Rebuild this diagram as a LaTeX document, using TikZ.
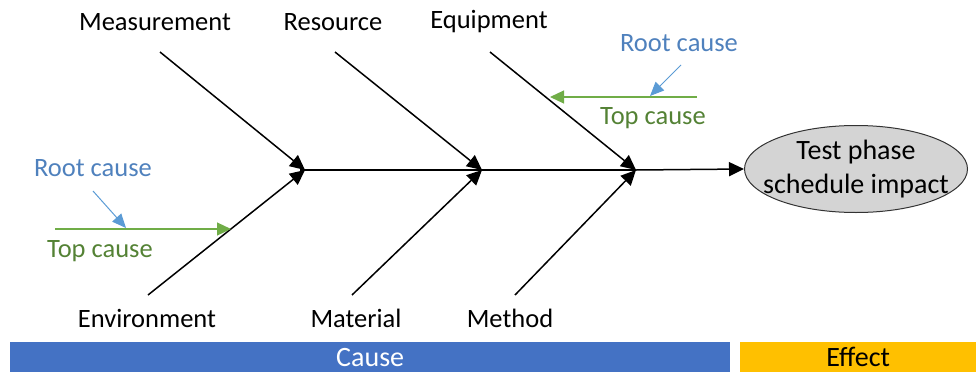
\documentclass[tikz,border=0pt]{standalone}
\usepackage{fontspec}
\setmainfont{Carlito}
\usetikzlibrary{arrows.meta,shapes.geometric}
\definecolor{rootblue}{HTML}{5B9BD5}
\definecolor{rootbluetext}{HTML}{4F81BD}
\definecolor{topgreen}{HTML}{70AD47}
\definecolor{topgreentext}{HTML}{548235}
\definecolor{causebar}{HTML}{4472C4}
\definecolor{effectbar}{HTML}{FFC000}
\tikzset{
  lbl/.style={font=\fontsize{26.5}{30}\selectfont, inner sep=0pt},
  bone/.style={draw=black, line width=1.5pt, -{Triangle[length=15pt,width=14pt]}},
  spine/.style={draw=black, line width=1.2pt},
  toparrow/.style={draw=topgreen, line width=1.2pt, -{Triangle[length=14pt,width=13pt]}},
  rootarrow/.style={draw=rootblue, line width=1pt, -{Triangle[length=14pt,width=12pt]}},
}
\begin{document}
\begin{tikzpicture}[x=1pt,y=-1pt]
\useasboundingbox (0,0) rectangle (976,372);
% effect
\node[ellipse, draw=black!80, line width=1pt, fill=black!17, minimum width=223pt, minimum height=87pt, inner xsep=-34pt, inner ysep=-4pt, align=center, font=\fontsize{28}{34}\selectfont] (eff) at (856,169) {Test phase\\schedule impact};
% junctions
\coordinate (j1) at (305,170);
\coordinate (j2) at (482,170);
\coordinate (j3) at (636,170);
\coordinate (s0) at (300,170);
\draw[spine] (s0) -- (j1) -- (j2) -- (j3);
\draw[bone] (j3) -- (eff.west);
% bone starts
\coordinate (b1) at (160,52);
\coordinate (b2) at (335,52);
\coordinate (b3) at (490,52);
\coordinate (b4) at (148,295);
\coordinate (b5) at (352,295);
\coordinate (b6) at (515,295);
\draw[bone] (b1) -- (j1);
\draw[bone] (b2) -- (j2);
\draw[bone] (b3) -- (j3);
\draw[bone] (b4) -- (j1);
\draw[bone] (b5) -- (j2);
\draw[bone] (b6) -- (j3);
\node[lbl] (l1) at (155,22) {Measurement};
\node[lbl] (l2) at (333,22) {Resource};
\node[lbl] (l3) at (489,22) {Equipment};
\node[lbl] (l4) at (147,318) {Environment};
\node[lbl] (l5) at (356,318) {Material};
\node[lbl] (l6) at (510,318) {Method};
% left cause arrows
\coordinate (g1s) at (55,229);
\coordinate (g1e) at (231,229);
\draw[toparrow] (g1s) -- (g1e);
\coordinate (r1s) at (93,191);
\coordinate (r1e) at (126,228);
\draw[rootarrow] (r1s) -- (r1e);
\node[lbl, text=rootbluetext] (rc1) at (93,168) {Root cause};
\node[lbl, text=topgreentext] (tc1) at (100,251) {Top cause};
% right cause arrows
\coordinate (g2s) at (697,97);
\coordinate (g2e) at (550,97);
\draw[toparrow] (g2s) -- (g2e);
\coordinate (r2s) at (681,65);
\coordinate (r2e) at (650,96);
\draw[rootarrow] (r2s) -- (r2e);
\node[lbl, text=rootbluetext] (rc2) at (679,43) {Root cause};
\node[lbl, text=topgreentext] (tc2) at (653,118) {Top cause};
% bars
\node[fill=causebar, minimum width=720pt, minimum height=30pt, inner sep=0pt, anchor=north west, text=white, font=\fontsize{28}{30}\selectfont] (cause) at (10,342) {Cause};
\node[fill=effectbar, minimum width=236pt, minimum height=30pt, inner sep=0pt, anchor=north west, text=black, font=\fontsize{28}{30}\selectfont] (effect) at (740,342) {Effect};
\end{tikzpicture}
\end{document}
